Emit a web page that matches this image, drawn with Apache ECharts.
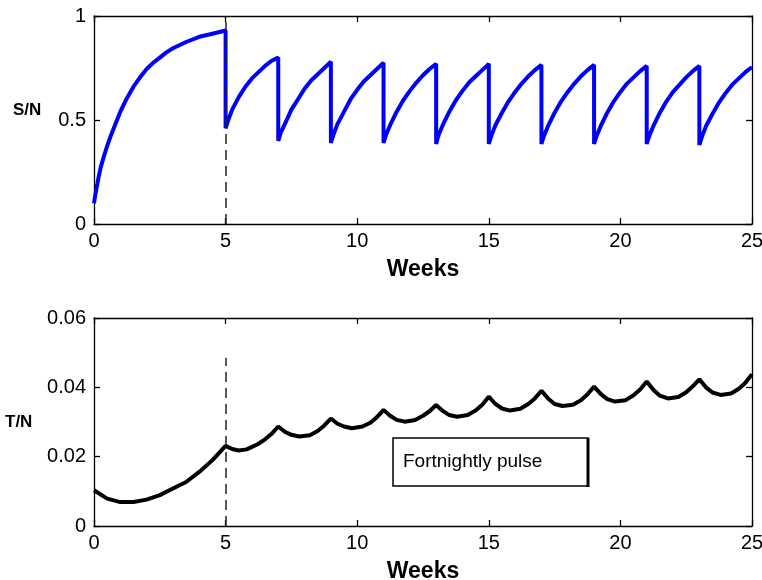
<!DOCTYPE html>
<html>
<head>
<meta charset="utf-8">
<script src="https://cdn.jsdelivr.net/npm/echarts@6/dist/echarts.min.js"></script>
<style>
html,body{margin:0;padding:0;background:#fff;}
#chart{width:762px;height:580px;}
</style>
</head>
<body>
<div id="chart"></div>
<script>
// ---- Data ----
var xTicks = [0, 5, 10, 15, 20, 25];
var sTicks = [0, 0.5, 1];
var tTicks = [0, 0.02, 0.04, 0.06];

// S/N (top panel)
var sWeeks = [
  0,0.05,0.1,0.175,0.25,0.375,0.5,0.625,0.75,0.875,1,1.25,1.5,1.75,2,2.25,2.5,2.75,3,3.5,4,4.5,5,
  5,5.05,5.1,5.25,5.5,5.75,6,6.25,6.5,6.75,7,
  7,7.05,7.1,7.25,7.5,7.75,8,8.25,8.5,8.75,9,
  9,9.05,9.1,9.25,9.5,9.75,10,10.25,10.5,10.75,11,
  11,11.05,11.1,11.25,11.5,11.75,12,12.25,12.5,12.75,13,
  13,13.05,13.1,13.25,13.5,13.75,14,14.25,14.5,14.75,15,
  15,15.05,15.1,15.25,15.5,15.75,16,16.25,16.5,16.75,17,
  17,17.05,17.1,17.25,17.5,17.75,18,18.25,18.5,18.75,19,
  19,19.05,19.1,19.25,19.5,19.75,20,20.25,20.5,20.75,21,
  21,21.05,21.1,21.25,21.5,21.75,22,22.25,22.5,22.75,23,
  23,23.05,23.1,23.25,23.5,23.75,24,24.25,24.5,24.75,25
];
var sValues = [
  0.10,0.14,0.175,0.225,0.27,0.325,0.375,0.42,0.46,0.50,0.54,0.605,0.66,0.705,0.745,0.775,0.80,0.825,0.845,0.875,0.90,0.915,0.93,
  0.46,0.48,0.50,0.55,0.61,0.66,0.70,0.73,0.76,0.785,0.80,
  0.40,0.42,0.44,0.48,0.55,0.60,0.65,0.69,0.72,0.75,0.78,
  0.39,0.41,0.43,0.48,0.54,0.60,0.645,0.685,0.715,0.745,0.775,
  0.39,0.41,0.43,0.475,0.54,0.595,0.64,0.68,0.715,0.745,0.77,
  0.385,0.41,0.43,0.475,0.54,0.595,0.64,0.68,0.71,0.74,0.77,
  0.385,0.405,0.425,0.475,0.535,0.59,0.635,0.675,0.71,0.74,0.765,
  0.385,0.405,0.425,0.47,0.535,0.59,0.635,0.675,0.71,0.74,0.765,
  0.385,0.405,0.425,0.47,0.535,0.59,0.635,0.675,0.705,0.735,0.76,
  0.385,0.405,0.425,0.47,0.535,0.59,0.635,0.67,0.705,0.735,0.76,
  0.38,0.40,0.42,0.47,0.53,0.585,0.63,0.67,0.70,0.73,0.755
];

// T/N (bottom panel)
var tWeeks = [
  0,0.5,1,1.5,2,2.5,3,3.5,4,4.5,5,
  5.25,5.5,5.8,6.2,6.5,6.75,7,
  7.25,7.5,7.8,8.2,8.5,8.75,9,
  9.25,9.5,9.8,10.2,10.5,10.75,11,
  11.25,11.5,11.8,12.2,12.5,12.75,13,
  13.25,13.5,13.8,14.2,14.5,14.75,15,
  15.25,15.5,15.8,16.2,16.5,16.75,17,
  17.25,17.5,17.8,18.2,18.5,18.75,19,
  19.25,19.5,19.8,20.2,20.5,20.75,21,
  21.25,21.5,21.8,22.2,22.5,22.75,23,
  23.25,23.5,23.8,24.2,24.5,24.75,25
];
var tValues = [
  0.0103,0.0079,0.0069,0.0069,0.0076,0.0089,0.0108,0.0127,0.0156,0.019,0.0231,
  0.0222,0.0218,0.0221,0.0235,0.0250,0.0266,0.0287,
  0.0272,0.0263,0.0258,0.0262,0.0274,0.0290,0.0310,
  0.0295,0.0287,0.0282,0.0287,0.0298,0.0314,0.0335,
  0.0318,0.0306,0.0301,0.0306,0.0318,0.0331,0.0349,
  0.0332,0.0320,0.0315,0.0320,0.0333,0.0350,0.0373,
  0.0352,0.0339,0.0333,0.0338,0.0352,0.0368,0.0390,
  0.0368,0.0352,0.0346,0.0350,0.0363,0.0380,0.0402,
  0.0381,0.0366,0.0359,0.0363,0.0377,0.0394,0.0417,
  0.0393,0.0376,0.0368,0.0372,0.0386,0.0403,0.0423,
  0.0400,0.0385,0.0378,0.0382,0.0396,0.0413,0.0438
];

var pulseStart = 5;
var tDashTop = 0.0485;
var boxLabel = 'Fortnightly pulse';

// ---- Chart ----
var FONT = 'Arial, "Liberation Sans", Helvetica, sans-serif';
function zip(a, b) { return a.map(function (v, i) { return [v, b[i]]; }); }

function xAxisMain(grid) {
  return {
    gridIndex: grid, type: 'value', min: xTicks[0], max: xTicks[xTicks.length - 1],
    interval: xTicks[1] - xTicks[0],
    axisLine: { onZero: false, lineStyle: { color: '#000', width: 1.3 } },
    axisTick: { inside: true, length: 6, lineStyle: { color: '#000', width: 1.3 } },
    axisLabel: { color: '#000', fontSize: 20, fontFamily: FONT, margin: 7 },
    splitLine: { show: false },
    name: 'Weeks', nameLocation: 'middle', nameGap: 46, nameMoveOverlap: false,
    nameTextStyle: { color: '#000', fontSize: 23, fontWeight: 'bold', fontFamily: FONT, verticalAlign: 'middle' }
  };
}
function xAxisTop(grid) {
  return {
    gridIndex: grid, type: 'value', position: 'top', min: xTicks[0], max: xTicks[xTicks.length - 1],
    interval: xTicks[1] - xTicks[0],
    axisLine: { onZero: false, lineStyle: { color: '#000', width: 1.3 } },
    axisTick: { inside: true, length: 6, lineStyle: { color: '#000', width: 1.3 } },
    axisLabel: { show: false }, splitLine: { show: false }
  };
}
function yAxis(grid, ticks, pos, showLabel) {
  return {
    gridIndex: grid, type: 'value', position: pos, min: ticks[0], max: ticks[ticks.length - 1],
    interval: ticks[1] - ticks[0],
    axisLine: { show: true, onZero: false, lineStyle: { color: '#000', width: 1.3 } },
    axisTick: { show: true, inside: true, length: 6, lineStyle: { color: '#000', width: 1.3 } },
    axisLabel: { show: showLabel, color: '#000', fontSize: 20, fontFamily: FONT, margin: 8 },
    splitLine: { show: false }
  };
}

var chart = echarts.init(document.getElementById('chart'), null, { renderer: 'canvas' });
chart.setOption({
  animation: false,
  backgroundColor: '#fff',
  grid: [
    { left: 94, right: 10, top: 16, height: 208, containLabel: false, outerBoundsMode: 'none' },
    { left: 94, right: 10, top: 318, height: 208, containLabel: false, outerBoundsMode: 'none' }
  ],
  xAxis: [xAxisMain(0), xAxisTop(0), xAxisMain(1), xAxisTop(1)],
  yAxis: [
    yAxis(0, sTicks, 'left', true), yAxis(0, sTicks, 'right', false),
    yAxis(1, tTicks, 'left', true), yAxis(1, tTicks, 'right', false)
  ],
  series: [
    {
      type: 'line', xAxisIndex: 0, yAxisIndex: 0, data: zip(sWeeks, sValues),
      showSymbol: false, lineStyle: { color: '#0000ff', width: 4 }, z: 3,
      markLine: {
        silent: true, symbol: ['none', 'none'], label: { show: false },
        lineStyle: { color: '#222', type: [10, 6], width: 1.5 },
        data: [[{ coord: [pulseStart, sTicks[0]] }, { coord: [pulseStart, sTicks[sTicks.length - 1]] }]]
      }
    },
    {
      type: 'line', xAxisIndex: 2, yAxisIndex: 2, data: zip(tWeeks, tValues),
      showSymbol: false, lineStyle: { color: '#000', width: 4 }, z: 3,
      markLine: {
        silent: true, symbol: ['none', 'none'], label: { show: false },
        lineStyle: { color: '#222', type: [10, 6], width: 1.5 },
        data: [[{ coord: [pulseStart, tTicks[0]] }, { coord: [pulseStart, tDashTop] }]]
      }
    }
  ],
  graphic: [
    { type: 'text', left: 13, top: 102, style: { text: 'S/N', fill: '#000', font: 'bold 17px ' + FONT } },
    { type: 'text', left: 5, top: 414, style: { text: 'T/N', fill: '#000', font: 'bold 17px ' + FONT } },
    { type: 'rect', shape: { x: 393, y: 438, width: 195, height: 48 },
      style: { fill: '#fff', stroke: '#000', lineWidth: 1.5 }, z: 10 },
    { type: 'line', shape: { x1: 588, y1: 438, x2: 588, y2: 487 },
      style: { stroke: '#000', lineWidth: 3 }, z: 11 },
    { type: 'text', x: 403, y: 462, style: { text: boxLabel, fill: '#000', font: '19px ' + FONT, textVerticalAlign: 'middle' }, z: 12 }
  ]
});
</script>
</body>
</html>
